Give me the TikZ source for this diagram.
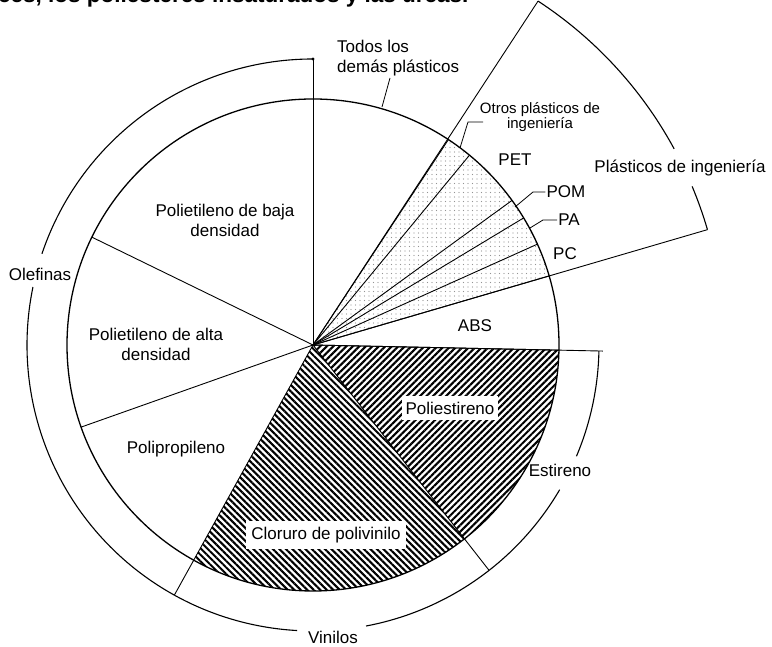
\documentclass[tikz,border=0pt]{standalone}
\usepackage{fontspec}
\setmainfont{Liberation Sans}
\usetikzlibrary{patterns.meta}
\begin{document}
\begin{tikzpicture}[x=1pt,y=1pt,
  lbl/.style={font=\fontsize{17}{20}\selectfont, inner sep=1pt, align=center},
  small/.style={font=\fontsize{15}{15}\selectfont, inner sep=1pt, align=center},
  rim/.style={line width=1.3pt},
  ray/.style={line width=0.9pt},
  brk/.style={line width=1.1pt},
  lead/.style={line width=0.8pt},
  dotfill/.style={pattern={Dots[distance=4.5pt,radius=0.6pt]}, pattern color=gray!85},
  hatchA/.style={pattern={Lines[angle=45,distance=4.6pt,line width=2.1pt]}, pattern color=black},
  hatchB/.style={pattern={Lines[angle=-45,distance=4.6pt,line width=2.1pt]}, pattern color=black}]
\useasboundingbox (0,0) rectangle (772,647);
\clip (0,0) rectangle (772,647);
\fill[white] (0,0) rectangle (772,647);
\def\R{246}
\def\Rb{286}
\def\Re{411}
\coordinate (C) at (313,302);

% top cut-off text line
\node[anchor=base west, inner sep=0pt, font=\fontsize{22.5}{24}\selectfont\bfseries] (top) at (-2,644) {ces, los poliésteres insaturados y las ureas.};

% fills
\fill[dotfill] (C) -- ++(16.3:\R) arc[start angle=16.3, end angle=56.6, radius=\R] -- cycle;
\fill[hatchA] (C) -- ++(-52:\R) arc[start angle=-52, end angle=-1.2, radius=\R] -- cycle;
\fill[hatchB] (C) -- ++(241:\R) arc[start angle=241, end angle=308, radius=\R] -- cycle;

% circle and rays
\draw[rim] (C) circle[radius=\R];
\foreach \a in {-1.2,16.3,24.2,31.1,36.0,50.5,56.6,90,154,199.5,241,308}
  \draw[ray] (C) -- ++(\a:\R);

% extended rays
\draw[ray] (C) -- ++(90:\Rb);
\draw[ray] (C) -- ++(-1.2:290);
\draw[ray] (C) ++(241:\R) -- ++(241:40);
\draw[ray] (C) ++(308:\R) -- ++(308:40);
\draw[ray] (C) -- ++(16.3:\Re);
\draw[ray] (C) -- ++(56.8:\Re);

% brackets
\draw[brk] (C) ++(90:\Rb) arc[start angle=90, end angle=161.4, radius=\Rb];
\draw[brk] (C) ++(168.3:\Rb) arc[start angle=168.3, end angle=241, radius=\Rb];
\fill (C) ++(90:\Rb) circle[radius=1.6];
\draw[brk] (C) ++(241:\Rb) arc[start angle=241, end angle=266.8, radius=\Rb];
\draw[brk] (C) ++(280.7:\Rb) arc[start angle=280.7, end angle=308, radius=\Rb];
\draw[brk] (C) ++(-52:\Rb) arc[start angle=-52, end angle=-30.4, radius=\Rb];
\draw[brk] (C) ++(-22.9:\Rb) arc[start angle=-22.9, end angle=-1.2, radius=\Rb];
\draw[brk] (C) ++(56.8:\Re) arc[start angle=56.8, end angle=28.5, radius=\Re];
\draw[brk] (C) ++(22.7:\Re) arc[start angle=22.7, end angle=16.3, radius=\Re];

% labels inside the pie
\node[lbl] (ldpe) at (225,427) {Polietileno de baja\\densidad};
\node[lbl] (hdpe) at (156,303) {Polietileno de alta\\densidad};
\node[lbl] (pp) at (176,198) {Polipropileno};
\node[lbl, fill=white, inner xsep=5pt, inner ysep=6pt] (pvc) at (326,112) {Cloruro de polivinilo};
\node[lbl, fill=white, inner xsep=4pt, inner ysep=6pt] (ps) at (450,239) {Poliestireno};
\node[lbl] (abs) at (475,321) {ABS};
\node[lbl] (pc) at (565,393) {PC};
\node[lbl] (pa) at (569,427) {PA};
\node[lbl] (pom) at (566,455) {POM};
\node[lbl] (pet) at (515,487) {PET};
\node[small] (otros) at (540,530) {Otros plásticos de\\ingeniería};
\node[lbl, align=left, anchor=west] (todos) at (336,589) {Todos los\\demás plásticos};

% group labels
\node[lbl] (olef) at (40,373) {Olefinas};
\node[lbl] (vin) at (333,10) {Vinilos};
\node[lbl] (est) at (560,177) {Estireno};
\node[lbl] (ing) at (680,479) {Plásticos de ingeniería};

% leaders
\coordinate (tA) at (390,569);
\coordinate (tB) at (382,540);
\draw[lead] (tA) -- (tB);
\coordinate (oA) at (483,525);
\coordinate (oB) at (468,525);
\coordinate (oC) at (460,499);
\draw[lead] (oA) -- (oB) -- (oC);
\coordinate (mA) at (515,440);
\coordinate (mB) at (533,455);
\draw[lead] (mA) -- (mB) -- (pom.west);
\coordinate (aA) at (530,419);
\coordinate (aB) at (543,427);
\draw[lead] (aA) -- (aB) -- (pa.west);
\end{tikzpicture}
\end{document}
